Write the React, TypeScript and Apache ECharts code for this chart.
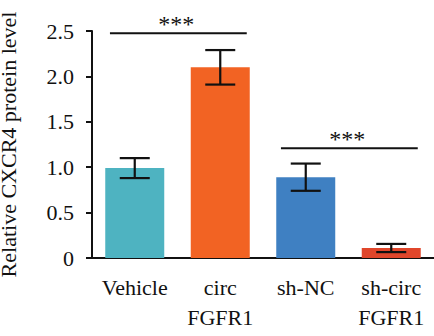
import React, { useEffect, useRef } from "react";
import * as echarts from "echarts";

const categories = ["Vehicle", "circ\nFGFR1", "sh-NC", "sh-circ\nFGFR1"];
const means = [0.99, 2.1, 0.89, 0.11];
const errors = [0.11, 0.19, 0.15, 0.045];
const barColors = ["#4EB3C1", "#F26323", "#3F80C2", "#E0462B"];
const yTicks = [0, 0.5, 1.0, 1.5, 2.0, 2.5];
// brackets: [leftCategory, rightCategory, y level, label]
const brackets: [number, number, number, string][] = [
  [0, 1, 2.475, "***"],
  [2, 3, 1.21, "***"],
];

const FONT = "'Liberation Serif', 'Times New Roman', 'DejaVu Serif', serif";

export default function App() {
  const ref = useRef<HTMLDivElement>(null);
  useEffect(() => {
    if (!ref.current) return;
    const chart = echarts.init(ref.current, undefined, { renderer: "svg" });
    chart.setOption({
      animation: false,
      grid: { left: 92, right: 0, top: 31, bottom: 78, outerBoundsMode: "none", containLabel: false },
      xAxis: {
        type: "category",
        data: categories,
        axisLine: { lineStyle: { color: "#111", width: 2 } },
        axisTick: { alignWithLabel: true, length: 7, lineStyle: { color: "#111", width: 2 } },
        axisLabel: {
          color: "#111",
          fontFamily: FONT,
          fontSize: 22,
          lineHeight: 30,
          margin: 14,
          interval: 0,
        },
      },
      yAxis: {
        type: "value",
        min: 0,
        max: 2.5,
        interval: 0.5,
        name: "Relative CXCR4 protein level",
        nameLocation: "middle",
        nameRotate: 90,
        nameGap: 73,
        nameTextStyle: { color: "#111", fontFamily: FONT, fontSize: 22 },
        splitLine: { show: false },
        axisLine: { show: true, lineStyle: { color: "#111", width: 2 } },
        axisTick: { show: true, length: 6, lineStyle: { color: "#111", width: 2 } },
        axisLabel: {
          color: "#111",
          fontFamily: FONT,
          fontSize: 22,
          margin: 18,
          formatter: (v: number) => (v === 0 ? "0" : v.toFixed(1)),
          customValues: yTicks,
        },
      },
      series: [
        {
          type: "bar",
          barWidth: "69%",
          data: means.map((v, i) => ({ value: v, itemStyle: { color: barColors[i] } })),
        },
        {
          type: "custom",
          data: means.map((m, i) => [i, m - errors[i], m + errors[i]]),
          renderItem: (params: any, api: any) => {
            const x = api.value(0);
            const lo = api.coord([x, api.value(1)]);
            const hi = api.coord([x, api.value(2)]);
            const cap = 15;
            const style = { stroke: "#111", lineWidth: 2.2 };
            return {
              type: "group",
              children: [
                { type: "line", shape: { x1: lo[0], y1: lo[1], x2: hi[0], y2: hi[1] }, style },
                { type: "line", shape: { x1: lo[0] - cap, y1: lo[1], x2: lo[0] + cap, y2: lo[1] }, style },
                { type: "line", shape: { x1: hi[0] - cap, y1: hi[1], x2: hi[0] + cap, y2: hi[1] }, style },
              ],
            };
          },
          z: 5,
        },
        {
          type: "custom",
          data: brackets.map((b) => [b[0], b[1], b[2]]),
          renderItem: (params: any, api: any) => {
            const idx = params.dataIndex;
            const a = api.coord([api.value(0), api.value(2)]);
            const b = api.coord([api.value(1), api.value(2)]);
            const band = api.size([1, 0])[0];
            const x1 = a[0] - band * 0.29;
            const x2 = b[0] + band * 0.31;
            return {
              type: "group",
              children: [
                { type: "line", shape: { x1, y1: a[1], x2, y2: a[1] }, style: { stroke: "#111", lineWidth: 2 } },
                {
                  type: "text",
                  x: (x1 + x2) / 2 - 2,
                  y: a[1] - 9,
                  style: {
                    text: brackets[idx][3],
                    fill: "#111",
                    fontFamily: FONT,
                    fontSize: 24,
                    align: "center",
                    verticalAlign: "middle",
                  },
                },
              ],
            };
          },
          z: 5,
        },
      ],
    });
    return () => chart.dispose();
  }, []);
  return <div ref={ref} style={{ width: 434, height: 336, position: "absolute", left: 0, top: 0 }} />;
}
